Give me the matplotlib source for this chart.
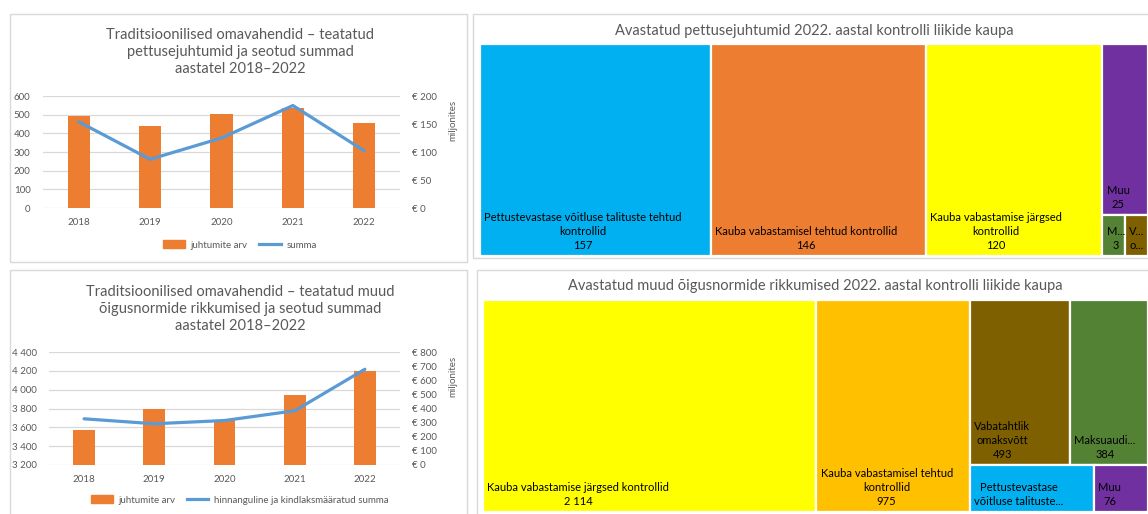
import matplotlib
matplotlib.use("Agg")
import matplotlib.pyplot as plt
from matplotlib.patches import Rectangle
from matplotlib.lines import Line2D
from matplotlib.ticker import FuncFormatter

plt.rcParams['font.family'] = ['Lato', 'DejaVu Sans']

W, H = 1148, 514
GRAY = '#595959'
GRID = '#D9D9D9'
BAR = '#ED7D31'
LINE = '#5B9BD5'

years = ['2018', '2019', '2020', '2021', '2022']

# top-left: fraud cases
fraud_cases = [492, 438, 506, 534, 453]
fraud_sum = [154, 87, 125, 183, 102]

# bottom-left: other irregularities
irreg_cases = [3571, 3793, 3683, 3948, 4202]
irreg_sum = [327, 292, 315, 384, 678]

# top-right treemap
top_labels = ['Pettustevastase võitluse talituste tehtud\nkontrollid',
              'Kauba vabastamisel tehtud kontrollid',
              'Kauba vabastamise järgsed\nkontrollid',
              'Muu', 'M...', 'V...']
top_values = [157, 146, 120, 25, 3, 3]
top_value_text = ['157', '146', '120', '25', '3', 'o...']
top_colors = ['#00B0F0', '#ED7D31', '#FFFF00', '#7030A0', '#548235', '#7F6000']

# bottom-right treemap
bot_labels = ['Kauba vabastamise järgsed kontrollid',
              'Kauba vabastamisel tehtud\nkontrollid',
              'Vabatahtlik\nomaksvõtt',
              'Maksuaudi...',
              'Pettustevastase\nvõitluse talituste...',
              'Muu']
bot_values = [2114, 975, 493, 384, 175, 76]
bot_show_value = [True, True, True, True, False, True]
bot_colors = ['#FFFF00', '#FFC000', '#7F6000', '#548235', '#00B0F0', '#7030A0']


def fmt_thousands(v):
    return f"{int(v):,}".replace(",", " ")


def fig_box(x0, y0, x1, y1):
    # pixel box (top-left origin) -> figure fraction rect
    return [x0 / W, 1 - y1 / H, (x1 - x0) / W, (y1 - y0) / H]


def squarify(values, x, y, w, h):
    total = sum(values)
    areas = [v * w * h / total for v in values]
    rects = []

    def score(row, short):
        s = sum(row)
        thick = s / short
        ratios = []
        for a in row:
            l = a / thick
            ratios.append(max(thick / l, l / thick))
        return sum(ratios) / len(ratios)

    i = 0
    while i < len(areas):
        short = min(w, h)
        row = [areas[i]]
        j = i + 1
        while j < len(areas) and score(row + [areas[j]], short) <= score(row, short):
            row.append(areas[j])
            j += 1
        thick = sum(row) / short
        if w >= h:
            cy = y
            for a in row:
                l = a / thick
                rects.append((x, cy, thick, l))
                cy += l
            x += thick
            w -= thick
        else:
            cx = x
            for a in row:
                l = a / thick
                rects.append((cx, y, l, thick))
                cx += l
            y += thick
            h -= thick
        i = j
    return rects


def draw_treemap(box, values, labels, value_texts, colors):
    ax = fig.add_axes(fig_box(*box))
    tw, th = box[2] - box[0], box[3] - box[1]
    ax.set_xlim(0, tw)
    ax.set_ylim(th, 0)
    ax.axis('off')
    for (rx, ry, rw, rh), lab, vt, col in zip(squarify(values, 0, 0, tw, th), labels, value_texts, colors):
        ax.add_patch(Rectangle((rx, ry), rw, rh, facecolor=col, edgecolor='white', lw=1.6))
        txt = lab if vt is None else lab + '\n' + vt
        ax.annotate(txt, xy=(rx, ry + rh), xytext=(3, 3.5), textcoords='offset points',
                    ha='left', va='bottom', multialignment='center', fontsize=8,
                    color='black', linespacing=1.35, annotation_clip=False)
    return ax


def draw_combo(box, cases, sums, ylim, yticks, y2lim, y2ticks, left_fmt, line_label, legend_y, title, title_y):
    ax = fig.add_axes(fig_box(*box))
    x = range(len(years))
    ax.bar(x, cases, width=0.31, color=BAR, zorder=3)
    ax.set_ylim(*ylim)
    ax.set_yticks(yticks)
    ax.yaxis.set_major_formatter(FuncFormatter(left_fmt))
    ax.set_xlim(-0.5, len(years) - 0.5)
    ax.set_xticks(list(x))
    ax.set_xticklabels(years)
    ax.grid(axis='y', color=GRID, lw=0.9, zorder=0)
    for s in ax.spines.values():
        s.set_visible(False)
    ax.tick_params(length=0, labelsize=7, colors=GRAY)
    ax.tick_params(axis='y', pad=9)
    ax.tick_params(axis='x', pad=7)

    ax2 = ax.twinx()
    ax2.plot(list(x), sums, color=LINE, lw=2.3, zorder=4, solid_capstyle='round')
    ax2.set_ylim(*y2lim)
    ax2.set_yticks(y2ticks)
    ax2.yaxis.set_major_formatter(FuncFormatter(lambda v, p: f"€ {int(v)}"))
    for s in ax2.spines.values():
        s.set_visible(False)
    ax2.tick_params(length=0, labelsize=7, colors=GRAY, pad=9)
    ax2.set_ylabel('miljonites', fontsize=7, color=GRAY)
    ax_w = box[2] - box[0]
    ax_h = box[3] - box[1]
    ax2.yaxis.set_label_coords((448 - box[0]) / ax_w, 0.78)

    handles = [Rectangle((0, 0), 1, 1, color=BAR), Line2D([0], [0], color=LINE, lw=2.3)]
    fig.legend(handles, ['juhtumite arv', line_label], loc='center',
               bbox_to_anchor=(240 / W, 1 - legend_y / H), ncol=2, frameon=False,
               fontsize=7, labelcolor=GRAY, handlelength=2.2, handleheight=0.9,
               columnspacing=1.2, handletextpad=0.6)
    fig.text(240 / W, 1 - title_y / H, title, ha='center', va='center',
             fontsize=10.5, color=GRAY, linespacing=1.3)


fig = plt.figure(figsize=(W / 100, H / 100), dpi=100)

# panel borders
for x0, y0, x1, y1 in [(10, 14, 467, 262), (473, 14, 1150, 258),
                       (10, 270, 467, 520), (477, 270, 1150, 520)]:
    fig.add_artist(Rectangle((x0 / W, 1 - y1 / H), (x1 - x0) / W, (y1 - y0) / H,
                             transform=fig.transFigure, fill=False, ec=GRID, lw=1))

draw_combo((43, 96, 400, 208), fraud_cases, fraud_sum, (0, 600), range(0, 601, 100),
           (0, 200), range(0, 201, 50), lambda v, p: f"{int(v)}", 'summa', 245,
           'Traditsioonilised omavahendid – teatatud\npettusejuhtumid ja seotud summad\naastatel 2018–2022', 52)

draw_combo((49, 352, 400, 465), irreg_cases, irreg_sum, (3200, 4400), range(3200, 4401, 200),
           (0, 800), range(0, 801, 100), lambda v, p: fmt_thousands(v),
           'hinnanguline ja kindlaksmääratud summa', 500,
           'Traditsioonilised omavahendid – teatatud muud\nõigusnormide rikkumised ja seotud summad\naastatel 2018–2022', 309)

draw_treemap((480, 44, 1148, 256), top_values, top_labels, top_value_text, top_colors)
fig.text(814 / W, 1 - 31 / H, 'Avastatud pettusejuhtumid 2022. aastal kontrolli liikide kaupa',
         ha='center', va='center', fontsize=10.5, color=GRAY)

bot_value_text = [fmt_thousands(v) if s else None for v, s in zip(bot_values, bot_show_value)]
draw_treemap((483, 300, 1148, 512), bot_values, bot_labels, bot_value_text, bot_colors)
fig.text(815 / W, 1 - 286 / H, 'Avastatud muud õigusnormide rikkumised 2022. aastal kontrolli liikide kaupa',
         ha='center', va='center', fontsize=10.5, color=GRAY)

fig.savefig('out.png', dpi=100)
